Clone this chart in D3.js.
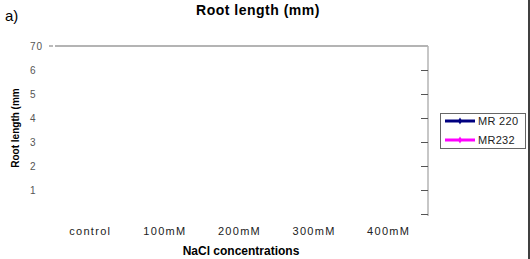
<!DOCTYPE html>
<html>
<head>
<meta charset="utf-8">
<script src="https://cdn.jsdelivr.net/npm/d3@7"></script>
<style>
body { margin: 0; background: #fff; }
text { font-family: "Liberation Sans", Arial, sans-serif; }
</style>
</head>
<body>
<div id="chart"></div>
<script>
// categories on the x axis
var categories = ["control", "100mM", "200mM", "300mM", "400mM"];
// series names; no values are plotted in the figure
var seriesNames = ["MR 220", "MR232"];
var seriesValues = [
    [null, null, null, null, null],
    [null, null, null, null, null]
];
var seriesColors = ["#000080", "#ff00ff"];
// y ticks and the (clipped) labels shown on the left
var yTicks = [0, 10, 20, 30, 40, 50, 60, 70];
var yLabels = ["", "1", "2", "3", "4", "5", "6", "70"];

var width = 530, height = 259;

var svg = d3.select("#chart").append("svg")
    .attr("width", width)
    .attr("height", height);

var x = d3.scaleBand().domain(categories).range([55, 428]);
var y = d3.scaleLinear().domain([0, 70]).range([214, 46]);

// title
svg.append("text")
    .attr("x", 258).attr("y", 15)
    .attr("text-anchor", "middle")
    .style("font-size", "14px").style("font-weight", "bold")
    .style("letter-spacing", "0.5px")
    .text("Root length (mm)");

svg.append("text")
    .attr("x", 5).attr("y", 21)
    .style("font-size", "15px")
    .text("a)");

// top gridline
svg.append("line")
    .attr("x1", 55).attr("x2", 428)
    .attr("y1", y(70)).attr("y2", y(70))
    .style("stroke", "#b4b4b4").style("stroke-width", 2);

// right axis, ticks pointing inward
var rightAxis = d3.axisLeft(y).tickValues(yTicks).tickSize(7).tickFormat("");
var ra = svg.append("g")
    .attr("transform", "translate(428,0)")
    .call(rightAxis);
ra.select(".domain").style("stroke", "#b4b4b4").style("stroke-width", 1.5)
    .attr("d", "M0," + y(70) + "V" + (y(0) + 2));
ra.selectAll(".tick line").style("stroke", "#555");
ra.selectAll(".tick").filter(function(d) { return d === 70; }).remove();

// left labels
svg.selectAll(".ylab")
    .data(yTicks)
    .enter().append("text")
    .attr("class", "ylab")
    .attr("x", 30)
    .attr("y", function(d) { return y(d) + 4; })
    .style("font-size", "10px").style("letter-spacing", "1px")
    .style("fill", "#555")
    .text(function(d, i) { return yLabels[i]; });

svg.append("line")
    .attr("x1", 49).attr("x2", 53)
    .attr("y1", y(70)).attr("y2", y(70))
    .style("stroke", "#777");

// x labels
svg.selectAll(".xlab")
    .data(categories)
    .enter().append("text")
    .attr("class", "xlab")
    .attr("x", function(d) { return x(d) + x.bandwidth() / 2 - 2; })
    .attr("y", 235)
    .attr("text-anchor", "middle")
    .style("font-size", "11px").style("letter-spacing", "1.3px")
    .style("fill", "#222")
    .text(function(d) { return d; });

svg.append("text")
    .attr("x", 241).attr("y", 255)
    .attr("text-anchor", "middle")
    .style("font-size", "12px").style("font-weight", "bold")
    .text("NaCl concentrations");

svg.append("text")
    .attr("transform", "translate(19,128) rotate(-90)")
    .attr("text-anchor", "middle")
    .style("font-size", "10px").style("font-weight", "bold")
    .text("Root length (mm");

// series lines (empty in the figure)
var line = d3.line()
    .defined(function(d) { return d != null; })
    .x(function(d, i) { return x(categories[i]) + x.bandwidth() / 2; })
    .y(function(d) { return y(d); });
seriesValues.forEach(function(vals, i) {
    svg.append("path")
        .attr("d", line(vals) || "")
        .style("fill", "none")
        .style("stroke", seriesColors[i]).style("stroke-width", 3);
});

// legend
var lg = svg.append("g");
lg.append("rect")
    .attr("x", 440.5).attr("y", 113.5)
    .attr("width", 85).attr("height", 35)
    .style("fill", "#fff").style("stroke", "#666");
var item = lg.selectAll(".item")
    .data(seriesNames)
    .enter().append("g")
    .attr("class", "item")
    .attr("transform", function(d, i) { return "translate(0," + (121 + i * 19) + ")"; });
item.append("line")
    .attr("x1", 445).attr("x2", 475)
    .style("stroke", function(d, i) { return seriesColors[i]; })
    .style("stroke-width", 3);
item.append("path")
    .attr("d", d3.symbol().type(d3.symbolDiamond).size(14)())
    .attr("transform", "translate(460,0)")
    .style("fill", function(d, i) { return seriesColors[i]; });
item.append("text")
    .attr("x", 478).attr("y", 4)
    .style("font-size", "11px").style("letter-spacing", "0.3px")
    .style("fill", "#222")
    .text(function(d) { return d; });

// frame edge on the right
svg.append("line")
    .attr("x1", 529).attr("x2", 529)
    .attr("y1", 0).attr("y2", height)
    .style("stroke", "#000").style("stroke-width", 1.5);
</script>
</body>
</html>
